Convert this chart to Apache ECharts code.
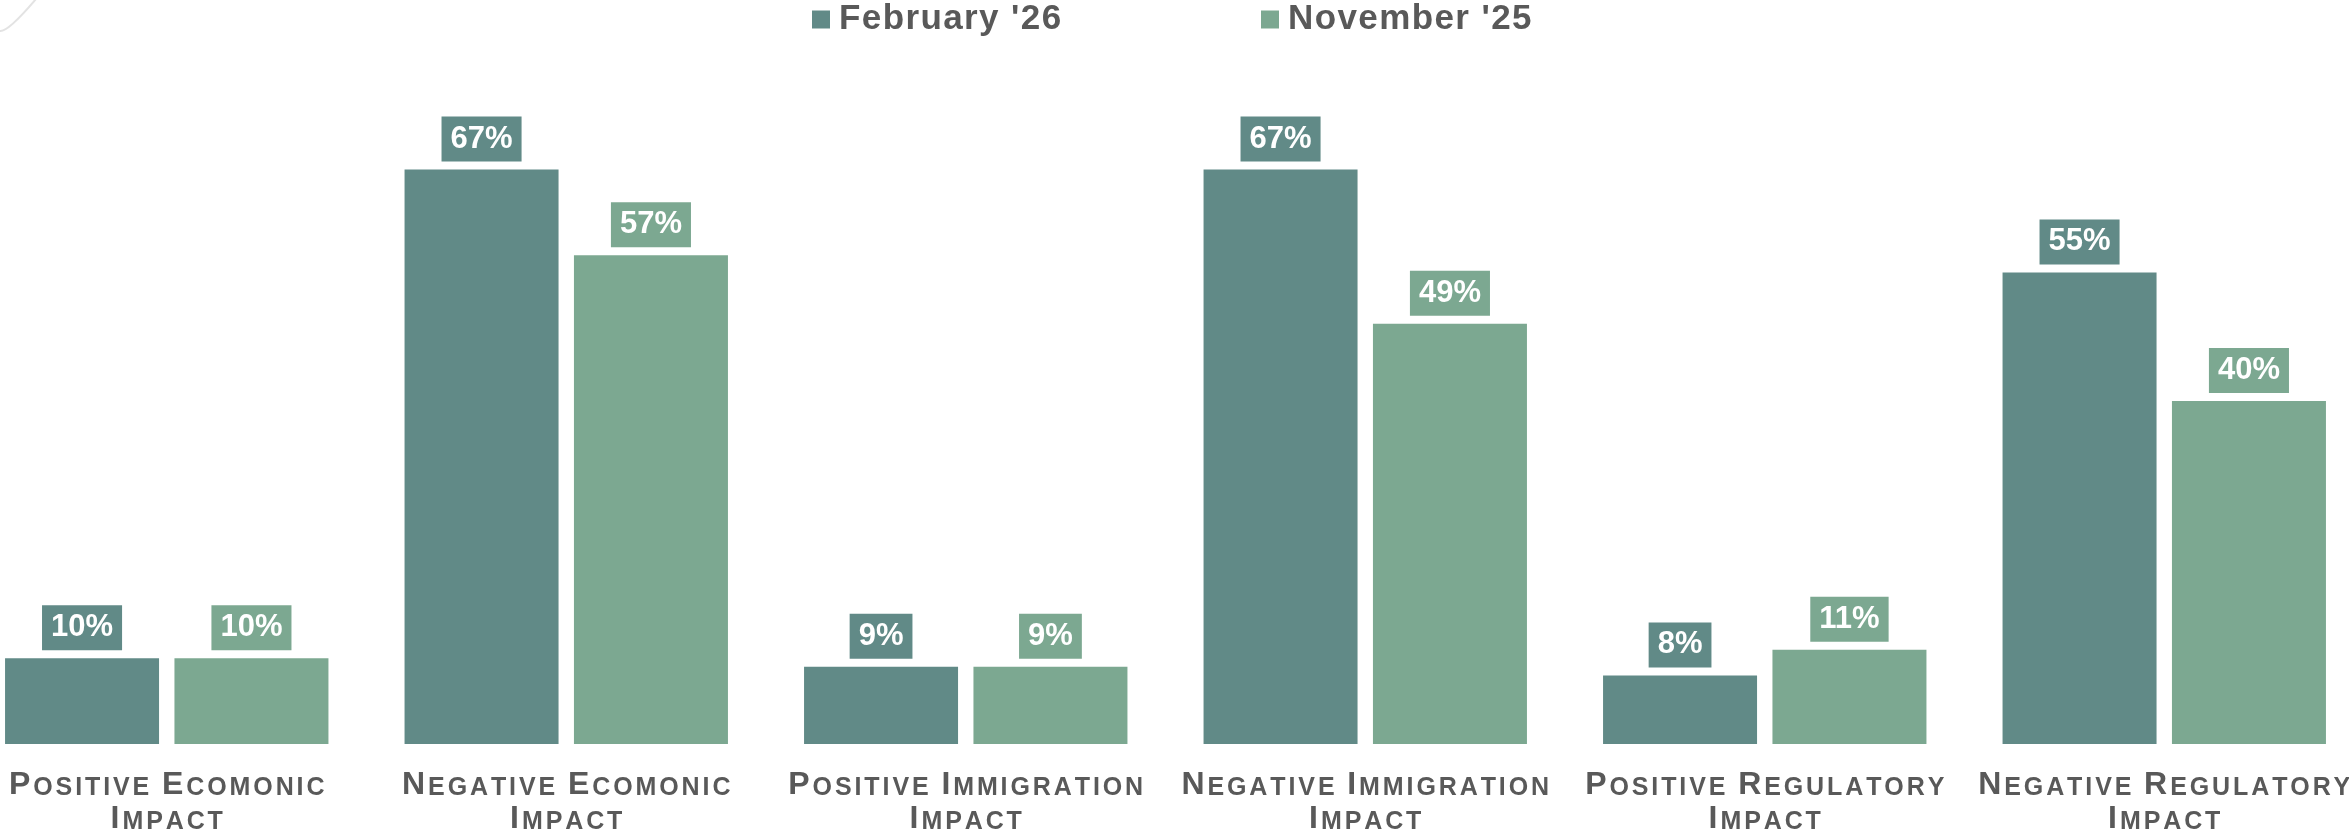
<!DOCTYPE html>
<html>
<head>
<meta charset="utf-8">
<title>Impact survey: February '26 vs November '25</title>
<script src="https://cdn.jsdelivr.net/npm/echarts@6/dist/echarts.min.js"></script>
<style>
  html, body { margin: 0; padding: 0; background: #ffffff; overflow: hidden; }
  /* The plot is slightly wider than the page: the outer groups bleed past both edges */
  #chart { position: absolute; left: -33px; top: 0; width: 2397px; height: 836px; }
</style>
</head>
<body>
<div id="chart"></div>
<script>
// Survey categories (two-line axis labels)
const categories = [
  'Positive Ecomonic\nImpact',
  'Negative Ecomonic\nImpact',
  'Positive Immigration\nImpact',
  'Negative Immigration\nImpact',
  'Positive Regulatory\nImpact',
  'Negative Regulatory\nImpact'
];

// Share of respondents, in percent
const seriesNames = ["February '26", "November '25"];
const february26 = [10, 67, 9, 67, 8, 55];
const november25 = [10, 57, 9, 49, 11, 40];

const DARK = '#618a87';
const LIGHT = '#7ca891';
const TEXT = '#595959';
const FONT = "'Liberation Sans', Arial, Helvetica, sans-serif";
const OFFSET = 33; // the chart canvas starts 33px left of the page

// Small-caps with tracking: the first letter of each word is full size,
// the rest are smaller capitals; each letter is its own rich token so it can be spaced.
function smallCaps(text) {
  return text.split('\n').map(function (line) {
    return line.split(' ').map(function (word) {
      let out = '{c|' + word.charAt(0).toUpperCase() + '}';
      for (const ch of word.slice(1)) out += '{s|' + ch.toUpperCase() + '}';
      return out;
    }).join('{s| }');
  }).join('\n');
}

// Lightly tracked legend text; the first letter carries the gap after the swatch
function tracked(text) {
  let out = '';
  let first = true;
  for (const ch of text) {
    out += (first ? '{f|' : '{t|') + ch + '}';
    first = false;
  }
  return out;
}

const chart = echarts.init(document.getElementById('chart'), null, { renderer: 'canvas' });

function legendAt(name, left) {
  const base = {
    fontFamily: FONT,
    fontWeight: 'bold',
    fontSize: 35,
    color: TEXT
  };
  return {
    data: [name],
    left: left + OFFSET,
    top: 2,
    padding: 0,
    icon: 'rect',
    itemWidth: 18,
    itemHeight: 18,
    itemGap: 0,
    selectedMode: false,
    formatter: function (n) { return tracked(n); },
    textStyle: {
      rich: {
        f: Object.assign({}, base, { padding: [0, 0.7, 0, 4] }),
        t: Object.assign({}, base, { padding: [0, 0.7] })
      }
    }
  };
}

function barLabel(color) {
  return {
    show: true,
    position: 'top',
    distance: 8,
    formatter: '{c}%',
    fontFamily: FONT,
    fontWeight: 'bold',
    fontSize: 31,
    lineHeight: 31,
    color: '#ffffff',
    backgroundColor: color,
    padding: [7, 9]
  };
}

const option = {
  backgroundColor: '#ffffff',
  animation: false,
  color: [DARK, LIGHT],
  legend: [legendAt(seriesNames[0], 812), legendAt(seriesNames[1], 1261)],
  grid: { left: 0, right: 0, top: 58, bottom: 92, containLabel: false },
  xAxis: {
    type: 'category',
    data: categories,
    axisLine: { show: false },
    axisTick: { show: false },
    splitLine: { show: false },
    axisLabel: {
      interval: 0,
      margin: 23,
      align: 'center',
      formatter: function (v) { return smallCaps(v); },
      rich: {
        c: {
          fontFamily: FONT,
          fontWeight: 'bold',
          fontSize: 32,
          color: TEXT,
          verticalAlign: 'bottom',
          padding: [2, 1.45, 0, 1.45]
        },
        s: {
          fontFamily: FONT,
          fontWeight: 'bold',
          fontSize: 25,
          color: TEXT,
          verticalAlign: 'bottom',
          padding: [0, 1.45]
        }
      }
    }
  },
  yAxis: {
    type: 'value',
    min: 0,
    max: 80,
    show: false,
    splitLine: { show: false }
  },
  series: [
    {
      name: seriesNames[0],
      type: 'bar',
      data: february26,
      barWidth: 154,
      barGap: '10%',
      itemStyle: { color: DARK },
      label: barLabel(DARK)
    },
    {
      name: seriesNames[1],
      type: 'bar',
      data: november25,
      barWidth: 154,
      barGap: '10%',
      itemStyle: { color: LIGHT },
      label: barLabel(LIGHT)
    }
  ],
  graphic: [
    {
      // faint rounded corner stroke in the top-left corner
      type: 'bezierCurve',
      shape: { x1: OFFSET, y1: 31, x2: OFFSET + 36, y2: -1, cpx1: OFFSET + 8, cpy1: 32 },
      style: { stroke: '#e3e3e3', lineWidth: 2, fill: null },
      silent: true
    }
  ]
};

chart.setOption(option);
</script>
</body>
</html>
